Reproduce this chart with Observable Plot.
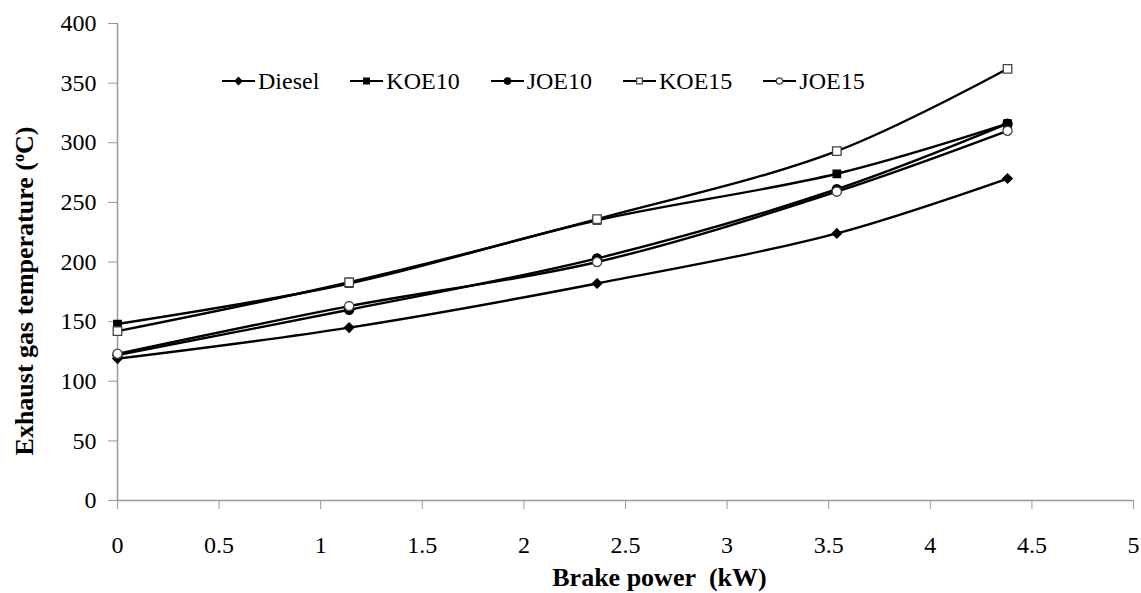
<!DOCTYPE html>
<html><head><meta charset="utf-8">
<script src="https://cdn.jsdelivr.net/npm/d3@7"></script>
<script src="https://cdn.jsdelivr.net/npm/@observablehq/plot@0.6"></script>
<style>
body{margin:0;background:#fff;font-family:"Liberation Serif","Times New Roman",serif;}
#wrap{position:relative;width:1141px;height:593px;}
#wrap svg text{font-family:"Liberation Serif","Times New Roman",serif !important;}
#wrap svg g[aria-label$="tick label"] text{font-size:24px;}
#legend{position:absolute;left:222px;top:67px;display:flex;gap:31px;font-size:24px;line-height:28px;color:#000;}
#legend .item{display:flex;align-items:center;}
#legend svg{display:block;margin-right:3px;}
</style></head><body><div id="wrap"><div id="legend"></div></div>
<script>
const brakePower = [0, 1.14, 2.36, 3.54, 4.38];
const seriesNames = ["Diesel", "KOE10", "JOE10", "KOE15", "JOE15"];
const diesel = [119, 145, 182, 224, 270];
const koe10 = [148, 182, 235, 274, 316];
const joe10 = [122, 160, 203, 261, 316];
const koe15 = [142, 183, 236, 293, 362];
const joe15 = [123, 163, 200, 259, 310];
const xTicks = [0, 0.5, 1, 1.5, 2, 2.5, 3, 3.5, 4, 4.5, 5];
const yTicks = [0, 50, 100, 150, 200, 250, 300, 350, 400];
const xLabel = "Brake power\u00a0 (kW)";
const yLabel = "Exhaust gas temperature (oC)";

const seriesValues = [diesel, koe10, joe10, koe15, joe15];
const markerStyle = {
  Diesel: {symbol: "diamond2", fill: "#000", stroke: "#000", r: 4.2},
  KOE10: {symbol: "square", fill: "#000", stroke: "#000", r: 4.2},
  JOE10: {symbol: "circle", fill: "#000", stroke: "#000", r: 4.6},
  KOE15: {symbol: "square", fill: "#fff", stroke: "#444", r: 4.8},
  JOE15: {symbol: "circle", fill: "#fff", stroke: "#444", r: 4.6}
};
const rows = seriesNames.flatMap((s, i) => brakePower.map((x, j) => ({series: s, x, y: seriesValues[i][j]})));

const marks = [
  Plot.ruleX([0], {stroke: "#999", strokeWidth: 1.5}),
  Plot.ruleY([0], {stroke: "#999", strokeWidth: 1.5}),
  Plot.axisX({ticks: xTicks, tickSize: 9, tickPadding: 26, stroke: "#999", fontSize: 24, label: null, tickFormat: d => String(d)}),
  Plot.axisY({ticks: yTicks, tickSize: 9, tickPadding: 12, stroke: "#999", fontSize: 24, label: null}),
  Plot.text([xLabel], {text: d => d, frameAnchor: "bottom", dy: 85, dx: 34, fontSize: 26, fontWeight: "bold"}),
  Plot.text([yLabel], {text: d => d, frameAnchor: "left", textAnchor: "middle", dx: -93, dy: 29, rotate: -90, fontSize: 26, fontWeight: "bold", className: "ylab"})
];
seriesNames.forEach(s => {
  const d = rows.filter(r => r.series === s);
  marks.push(Plot.line(d, {x: "x", y: "y", curve: "catmull-rom", stroke: "#000", strokeWidth: 2.4}));
});
seriesNames.forEach(s => {
  const d = rows.filter(r => r.series === s);
  const m = markerStyle[s];
  marks.push(Plot.dot(d, {x: "x", y: "y", symbol: () => m.symbol, r: m.r, fill: m.fill, stroke: m.stroke, strokeWidth: 1.3}));
});

const chart = Plot.plot({
  width: 1141, height: 593,
  marginLeft: 117, marginRight: 8, marginTop: 23, marginBottom: 93,
  style: {fontFamily: "'Liberation Serif','Times New Roman',serif", color: "#000", background: "#fff"},
  x: {domain: [0, 5]},
  y: {domain: [0, 400]},
  symbol: {type: "identity"},
  marks
});
document.getElementById("wrap").prepend(chart);
chart.querySelectorAll('g[aria-label$="tick label"] text').forEach(t => { t.style.fontSize = "24px"; t.style.fontFamily = "'Liberation Serif', serif"; });

// superscript o in y label
const yl = chart.querySelector(".ylab text");
if (yl) {
  yl.textContent = "";
  const ns = "http://www.w3.org/2000/svg";
  const parts = [["Exhaust gas temperature (", null], ["o", "sup"], ["C)", null]];
  parts.forEach(([t, k]) => {
    const ts = document.createElementNS(ns, "tspan");
    ts.textContent = t;
    if (k === "sup") { ts.setAttribute("font-size", "16"); ts.setAttribute("dy", "-9"); }
    else if (t === "C)") { ts.setAttribute("dy", "9"); }
    yl.appendChild(ts);
  });
}

// legend
const legend = document.getElementById("legend");
const symOf = {diamond2: d3.symbolDiamond2, square: d3.symbolSquare, circle: d3.symbolCircle};
seriesNames.forEach(s => {
  const m = markerStyle[s];
  const item = document.createElement("div");
  item.className = "item";
  const sym = d3.symbol(symOf[m.symbol], Math.PI * 3.2 * 3.2)();
  item.innerHTML = `<svg width="33" height="16"><line x1="0" x2="33" y1="8" y2="8" stroke="#000" stroke-width="2.2"/><path transform="translate(16.5,8)" d="${sym}" fill="${m.fill}" stroke="${m.stroke}" stroke-width="1.2"/></svg><span>${s}</span>`;
  legend.appendChild(item);
});
</script>
</body></html>
